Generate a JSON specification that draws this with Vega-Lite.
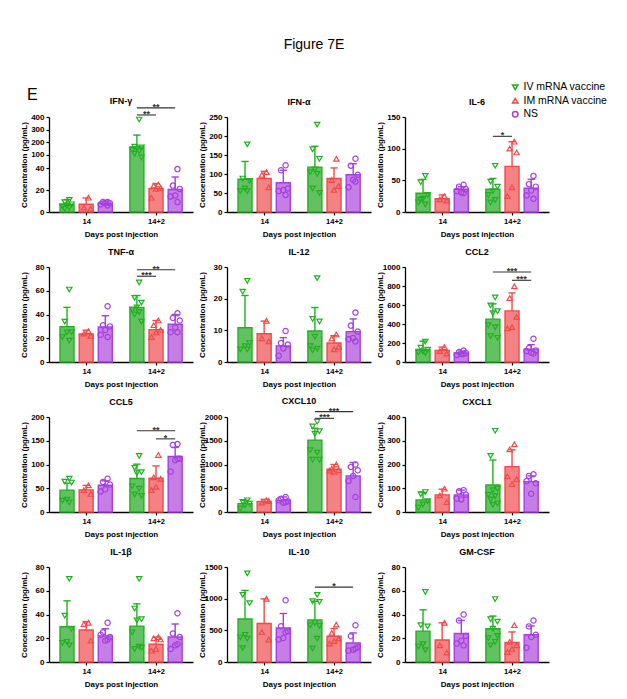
{
  "$schema": "https://vega.github.io/schema/vega-lite/v6.json",
  "padding": {"left": 20, "top": 38, "right": 5, "bottom": 5},
  "background": "white",
  "title": {"text": "Figure 7E", "fontSize": 14, "fontWeight": "normal", "anchor": "middle", "frame": "group", "offset": 30, "dx": 265},
  "data": {"values": [
    {"k":"b","p":"IFN-γ","d":"14","g":"IV","m":7,"hi":11.3},
    {"k":"b","p":"IFN-γ","d":"14","g":"IM","m":7,"hi":12.7},
    {"k":"b","p":"IFN-γ","d":"14","g":"NS","m":8,"hi":10},
    {"k":"b","p":"IFN-γ","d":"14+2","g":"IV","m":164,"hi":257},
    {"k":"b","p":"IFN-γ","d":"14+2","g":"IM","m":21.3,"hi":25.8},
    {"k":"b","p":"IFN-γ","d":"14+2","g":"NS","m":20.4,"hi":31.8},
    {"k":"b","p":"IFN-α","d":"14","g":"IV","m":86,"hi":133},
    {"k":"b","p":"IFN-α","d":"14","g":"IM","m":88,"hi":107},
    {"k":"b","p":"IFN-α","d":"14","g":"NS","m":77,"hi":110},
    {"k":"b","p":"IFN-α","d":"14+2","g":"IV","m":118,"hi":173},
    {"k":"b","p":"IFN-α","d":"14+2","g":"IM","m":88,"hi":116},
    {"k":"b","p":"IFN-α","d":"14+2","g":"NS","m":98,"hi":127},
    {"k":"b","p":"IL-6","d":"14","g":"IV","m":29.5,"hi":51.6},
    {"k":"b","p":"IL-6","d":"14","g":"IM","m":21,"hi":27},
    {"k":"b","p":"IL-6","d":"14","g":"NS","m":36,"hi":40},
    {"k":"b","p":"IL-6","d":"14+2","g":"IV","m":36,"hi":53},
    {"k":"b","p":"IL-6","d":"14+2","g":"IM","m":72,"hi":111},
    {"k":"b","p":"IL-6","d":"14+2","g":"NS","m":37.4,"hi":51.6},
    {"k":"b","p":"TNF-α","d":"14","g":"IV","m":29.8,"hi":46},
    {"k":"b","p":"TNF-α","d":"14","g":"IM","m":23.6,"hi":26.8},
    {"k":"b","p":"TNF-α","d":"14","g":"NS","m":29.6,"hi":39},
    {"k":"b","p":"TNF-α","d":"14+2","g":"IV","m":46,"hi":56},
    {"k":"b","p":"TNF-α","d":"14+2","g":"IM","m":27.3,"hi":34.9},
    {"k":"b","p":"TNF-α","d":"14+2","g":"NS","m":31.8,"hi":40},
    {"k":"b","p":"IL-12","d":"14","g":"IV","m":10.8,"hi":21},
    {"k":"b","p":"IL-12","d":"14","g":"IM","m":8.9,"hi":12.9},
    {"k":"b","p":"IL-12","d":"14","g":"NS","m":5.1,"hi":7.7},
    {"k":"b","p":"IL-12","d":"14+2","g":"IV","m":9.8,"hi":17.2},
    {"k":"b","p":"IL-12","d":"14+2","g":"IM","m":6,"hi":8.3},
    {"k":"b","p":"IL-12","d":"14+2","g":"NS","m":9.6,"hi":13.6},
    {"k":"b","p":"CCL2","d":"14","g":"IV","m":132,"hi":220},
    {"k":"b","p":"CCL2","d":"14","g":"IM","m":122,"hi":157},
    {"k":"b","p":"CCL2","d":"14","g":"NS","m":94,"hi":115},
    {"k":"b","p":"CCL2","d":"14+2","g":"IV","m":451,"hi":612},
    {"k":"b","p":"CCL2","d":"14+2","g":"IM","m":538,"hi":727},
    {"k":"b","p":"CCL2","d":"14+2","g":"NS","m":136,"hi":182},
    {"k":"b","p":"CCL5","d":"14","g":"IV","m":46,"hi":60.7},
    {"k":"b","p":"CCL5","d":"14","g":"IM","m":46.5,"hi":56},
    {"k":"b","p":"CCL5","d":"14","g":"NS","m":56.4,"hi":65.6},
    {"k":"b","p":"CCL5","d":"14+2","g":"IV","m":70.5,"hi":100.7},
    {"k":"b","p":"CCL5","d":"14+2","g":"IM","m":71,"hi":97},
    {"k":"b","p":"CCL5","d":"14+2","g":"NS","m":117,"hi":136},
    {"k":"b","p":"CXCL10","d":"14","g":"IV","m":176,"hi":246},
    {"k":"b","p":"CXCL10","d":"14","g":"IM","m":224,"hi":267},
    {"k":"b","p":"CXCL10","d":"14","g":"NS","m":246,"hi":317},
    {"k":"b","p":"CXCL10","d":"14+2","g":"IV","m":1514,"hi":1764},
    {"k":"b","p":"CXCL10","d":"14+2","g":"IM","m":901,"hi":1000},
    {"k":"b","p":"CXCL10","d":"14+2","g":"NS","m":761,"hi":1042},
    {"k":"b","p":"CXCL1","d":"14","g":"IV","m":51,"hi":82},
    {"k":"b","p":"CXCL1","d":"14","g":"IM","m":72,"hi":96},
    {"k":"b","p":"CXCL1","d":"14","g":"NS","m":72,"hi":92},
    {"k":"b","p":"CXCL1","d":"14+2","g":"IV","m":114,"hi":219},
    {"k":"b","p":"CXCL1","d":"14+2","g":"IM","m":191,"hi":262},
    {"k":"b","p":"CXCL1","d":"14+2","g":"NS","m":128,"hi":152},
    {"k":"b","p":"IL-1β","d":"14","g":"IV","m":29.7,"hi":51.5},
    {"k":"b","p":"IL-1β","d":"14","g":"IM","m":26.9,"hi":34},
    {"k":"b","p":"IL-1β","d":"14","g":"NS","m":22,"hi":28},
    {"k":"b","p":"IL-1β","d":"14+2","g":"IV","m":30.2,"hi":49},
    {"k":"b","p":"IL-1β","d":"14+2","g":"IM","m":15,"hi":21},
    {"k":"b","p":"IL-1β","d":"14+2","g":"NS","m":21,"hi":32},
    {"k":"b","p":"IL-10","d":"14","g":"IV","m":680,"hi":1130},
    {"k":"b","p":"IL-10","d":"14","g":"IM","m":607,"hi":997},
    {"k":"b","p":"IL-10","d":"14","g":"NS","m":538,"hi":766},
    {"k":"b","p":"IL-10","d":"14+2","g":"IV","m":665,"hi":960},
    {"k":"b","p":"IL-10","d":"14+2","g":"IM","m":407,"hi":528},
    {"k":"b","p":"IL-10","d":"14+2","g":"NS","m":301,"hi":459},
    {"k":"b","p":"GM-CSF","d":"14","g":"IV","m":26,"hi":44},
    {"k":"b","p":"GM-CSF","d":"14","g":"IM","m":18.5,"hi":33},
    {"k":"b","p":"GM-CSF","d":"14","g":"NS","m":24,"hi":35},
    {"k":"b","p":"GM-CSF","d":"14+2","g":"IV","m":28,"hi":38.7},
    {"k":"b","p":"GM-CSF","d":"14+2","g":"IM","m":16.5,"hi":25.3},
    {"k":"b","p":"GM-CSF","d":"14+2","g":"NS","m":23,"hi":30.3},

    {"k":"x","p":"IFN-γ","d":"14+2","g":"IV","g2":"IM","y":416,"t":"**"},
    {"k":"x","p":"IFN-γ","d":"14+2","g":"IV","g2":"NS","y":472,"t":"**"},
    {"k":"x","p":"IL-6","d":"14+2","g":"IV","g2":"IM","y":119.5,"t":"*"},
    {"k":"x","p":"TNF-α","d":"14+2","g":"IV","g2":"IM","y":72.2,"t":"***"},
    {"k":"x","p":"TNF-α","d":"14+2","g":"IV","g2":"NS","y":77.7,"t":"**"},
    {"k":"x","p":"CCL2","d":"14+2","g":"IV","g2":"NS","y":947,"t":"***"},
    {"k":"x","p":"CCL2","d":"14+2","g":"IM","g2":"NS","y":860,"t":"***"},
    {"k":"x","p":"CCL5","d":"14+2","g":"IM","g2":"NS","y":154,"t":"*"},
    {"k":"x","p":"CCL5","d":"14+2","g":"IV","g2":"NS","y":171,"t":"**"},
    {"k":"x","p":"CXCL10","d":"14+2","g":"IV","g2":"IM","y":1972,"t":"***"},
    {"k":"x","p":"CXCL10","d":"14+2","g":"IV","g2":"NS","y":2113,"t":"***"},
    {"k":"x","p":"IL-10","d":"14+2","g":"IV","g2":"NS","y":1182,"t":"*"},

    {"k":"s","p":"IFN-γ","d":"14","g":"IV","v":11},
    {"k":"s","p":"IFN-γ","d":"14","g":"IV","v":9},
    {"k":"s","p":"IFN-γ","d":"14","g":"IV","v":7},
    {"k":"s","p":"IFN-γ","d":"14","g":"IV","v":6},
    {"k":"s","p":"IFN-γ","d":"14","g":"IV","v":5},
    {"k":"s","p":"IFN-γ","d":"14","g":"IV","v":4},
    {"k":"s","p":"IFN-γ","d":"14","g":"IV","v":3},
    {"k":"s","p":"IFN-γ","d":"14","g":"IM","v":13},
    {"k":"s","p":"IFN-γ","d":"14","g":"IM","v":4},
    {"k":"s","p":"IFN-γ","d":"14","g":"IM","v":3},
    {"k":"s","p":"IFN-γ","d":"14","g":"NS","v":9},
    {"k":"s","p":"IFN-γ","d":"14","g":"NS","v":9},
    {"k":"s","p":"IFN-γ","d":"14","g":"NS","v":8},
    {"k":"s","p":"IFN-γ","d":"14","g":"NS","v":8},
    {"k":"s","p":"IFN-γ","d":"14","g":"NS","v":7},
    {"k":"s","p":"IFN-γ","d":"14","g":"NS","v":6},
    {"k":"s","p":"IFN-γ","d":"14+2","g":"IV","v":380},
    {"k":"s","p":"IFN-γ","d":"14+2","g":"IV","v":165},
    {"k":"s","p":"IFN-γ","d":"14+2","g":"IV","v":160},
    {"k":"s","p":"IFN-γ","d":"14+2","g":"IV","v":150},
    {"k":"s","p":"IFN-γ","d":"14+2","g":"IV","v":140},
    {"k":"s","p":"IFN-γ","d":"14+2","g":"IV","v":130},
    {"k":"s","p":"IFN-γ","d":"14+2","g":"IV","v":110},
    {"k":"s","p":"IFN-γ","d":"14+2","g":"IV","v":80},
    {"k":"s","p":"IFN-γ","d":"14+2","g":"IM","v":25},
    {"k":"s","p":"IFN-γ","d":"14+2","g":"IM","v":24},
    {"k":"s","p":"IFN-γ","d":"14+2","g":"IM","v":22},
    {"k":"s","p":"IFN-γ","d":"14+2","g":"IM","v":21},
    {"k":"s","p":"IFN-γ","d":"14+2","g":"IM","v":13},
    {"k":"s","p":"IFN-γ","d":"14+2","g":"NS","v":39},
    {"k":"s","p":"IFN-γ","d":"14+2","g":"NS","v":24},
    {"k":"s","p":"IFN-γ","d":"14+2","g":"NS","v":21},
    {"k":"s","p":"IFN-γ","d":"14+2","g":"NS","v":15},
    {"k":"s","p":"IFN-γ","d":"14+2","g":"NS","v":14},
    {"k":"s","p":"IFN-γ","d":"14+2","g":"NS","v":9},

    {"k":"s","p":"IFN-α","d":"14","g":"IV","v":178},
    {"k":"s","p":"IFN-α","d":"14","g":"IV","v":88},
    {"k":"s","p":"IFN-α","d":"14","g":"IV","v":82},
    {"k":"s","p":"IFN-α","d":"14","g":"IV","v":62},
    {"k":"s","p":"IFN-α","d":"14","g":"IV","v":55},
    {"k":"s","p":"IFN-α","d":"14","g":"IV","v":55},
    {"k":"s","p":"IFN-α","d":"14","g":"IM","v":105},
    {"k":"s","p":"IFN-α","d":"14","g":"IM","v":98},
    {"k":"s","p":"IFN-α","d":"14","g":"IM","v":65},
    {"k":"s","p":"IFN-α","d":"14","g":"NS","v":123},
    {"k":"s","p":"IFN-α","d":"14","g":"NS","v":110},
    {"k":"s","p":"IFN-α","d":"14","g":"NS","v":62},
    {"k":"s","p":"IFN-α","d":"14","g":"NS","v":58},
    {"k":"s","p":"IFN-α","d":"14","g":"NS","v":55},
    {"k":"s","p":"IFN-α","d":"14","g":"NS","v":45},
    {"k":"s","p":"IFN-α","d":"14+2","g":"IV","v":230},
    {"k":"s","p":"IFN-α","d":"14+2","g":"IV","v":165},
    {"k":"s","p":"IFN-α","d":"14+2","g":"IV","v":140},
    {"k":"s","p":"IFN-α","d":"14+2","g":"IV","v":112},
    {"k":"s","p":"IFN-α","d":"14+2","g":"IV","v":105},
    {"k":"s","p":"IFN-α","d":"14+2","g":"IV","v":100},
    {"k":"s","p":"IFN-α","d":"14+2","g":"IV","v":62},
    {"k":"s","p":"IFN-α","d":"14+2","g":"IV","v":50},
    {"k":"s","p":"IFN-α","d":"14+2","g":"IM","v":140},
    {"k":"s","p":"IFN-α","d":"14+2","g":"IM","v":84},
    {"k":"s","p":"IFN-α","d":"14+2","g":"IM","v":68},
    {"k":"s","p":"IFN-α","d":"14+2","g":"IM","v":58},
    {"k":"s","p":"IFN-α","d":"14+2","g":"NS","v":140},
    {"k":"s","p":"IFN-α","d":"14+2","g":"NS","v":122},
    {"k":"s","p":"IFN-α","d":"14+2","g":"NS","v":98},
    {"k":"s","p":"IFN-α","d":"14+2","g":"NS","v":85},
    {"k":"s","p":"IFN-α","d":"14+2","g":"NS","v":65},
    {"k":"s","p":"IFN-α","d":"14+2","g":"NS","v":80},

    {"k":"s","p":"IL-6","d":"14","g":"IV","v":57},
    {"k":"s","p":"IL-6","d":"14","g":"IV","v":47},
    {"k":"s","p":"IL-6","d":"14","g":"IV","v":27},
    {"k":"s","p":"IL-6","d":"14","g":"IV","v":21},
    {"k":"s","p":"IL-6","d":"14","g":"IV","v":15},
    {"k":"s","p":"IL-6","d":"14","g":"IV","v":12},
    {"k":"s","p":"IL-6","d":"14","g":"IV","v":19},
    {"k":"s","p":"IL-6","d":"14","g":"IM","v":25},
    {"k":"s","p":"IL-6","d":"14","g":"IM","v":20},
    {"k":"s","p":"IL-6","d":"14","g":"IM","v":18},
    {"k":"s","p":"IL-6","d":"14","g":"NS","v":43},
    {"k":"s","p":"IL-6","d":"14","g":"NS","v":40},
    {"k":"s","p":"IL-6","d":"14","g":"NS","v":36},
    {"k":"s","p":"IL-6","d":"14","g":"NS","v":31},
    {"k":"s","p":"IL-6","d":"14","g":"NS","v":33},
    {"k":"s","p":"IL-6","d":"14","g":"NS","v":30},
    {"k":"s","p":"IL-6","d":"14+2","g":"IV","v":73},
    {"k":"s","p":"IL-6","d":"14+2","g":"IV","v":48},
    {"k":"s","p":"IL-6","d":"14+2","g":"IV","v":40},
    {"k":"s","p":"IL-6","d":"14+2","g":"IV","v":33},
    {"k":"s","p":"IL-6","d":"14+2","g":"IV","v":27},
    {"k":"s","p":"IL-6","d":"14+2","g":"IV","v":19},
    {"k":"s","p":"IL-6","d":"14+2","g":"IV","v":15},
    {"k":"s","p":"IL-6","d":"14+2","g":"IM","v":111},
    {"k":"s","p":"IL-6","d":"14+2","g":"IM","v":100},
    {"k":"s","p":"IL-6","d":"14+2","g":"IM","v":94},
    {"k":"s","p":"IL-6","d":"14+2","g":"IM","v":39},
    {"k":"s","p":"IL-6","d":"14+2","g":"IM","v":25},
    {"k":"s","p":"IL-6","d":"14+2","g":"NS","v":57},
    {"k":"s","p":"IL-6","d":"14+2","g":"NS","v":44},
    {"k":"s","p":"IL-6","d":"14+2","g":"NS","v":40},
    {"k":"s","p":"IL-6","d":"14+2","g":"NS","v":34},
    {"k":"s","p":"IL-6","d":"14+2","g":"NS","v":26},
    {"k":"s","p":"IL-6","d":"14+2","g":"NS","v":21},

    {"k":"s","p":"TNF-α","d":"14","g":"IV","v":61},
    {"k":"s","p":"TNF-α","d":"14","g":"IV","v":34},
    {"k":"s","p":"TNF-α","d":"14","g":"IV","v":25},
    {"k":"s","p":"TNF-α","d":"14","g":"IV","v":25},
    {"k":"s","p":"TNF-α","d":"14","g":"IV","v":21},
    {"k":"s","p":"TNF-α","d":"14","g":"IV","v":18},
    {"k":"s","p":"TNF-α","d":"14","g":"IM","v":26},
    {"k":"s","p":"TNF-α","d":"14","g":"IM","v":24},
    {"k":"s","p":"TNF-α","d":"14","g":"IM","v":22},
    {"k":"s","p":"TNF-α","d":"14","g":"NS","v":47},
    {"k":"s","p":"TNF-α","d":"14","g":"NS","v":31},
    {"k":"s","p":"TNF-α","d":"14","g":"NS","v":30},
    {"k":"s","p":"TNF-α","d":"14","g":"NS","v":27},
    {"k":"s","p":"TNF-α","d":"14","g":"NS","v":23},
    {"k":"s","p":"TNF-α","d":"14","g":"NS","v":21},
    {"k":"s","p":"TNF-α","d":"14+2","g":"IV","v":67},
    {"k":"s","p":"TNF-α","d":"14+2","g":"IV","v":54},
    {"k":"s","p":"TNF-α","d":"14+2","g":"IV","v":50},
    {"k":"s","p":"TNF-α","d":"14+2","g":"IV","v":46},
    {"k":"s","p":"TNF-α","d":"14+2","g":"IV","v":44},
    {"k":"s","p":"TNF-α","d":"14+2","g":"IV","v":42},
    {"k":"s","p":"TNF-α","d":"14+2","g":"IV","v":40},
    {"k":"s","p":"TNF-α","d":"14+2","g":"IV","v":34},
    {"k":"s","p":"TNF-α","d":"14+2","g":"IM","v":35},
    {"k":"s","p":"TNF-α","d":"14+2","g":"IM","v":31},
    {"k":"s","p":"TNF-α","d":"14+2","g":"IM","v":27},
    {"k":"s","p":"TNF-α","d":"14+2","g":"IM","v":25},
    {"k":"s","p":"TNF-α","d":"14+2","g":"IM","v":21},
    {"k":"s","p":"TNF-α","d":"14+2","g":"NS","v":41},
    {"k":"s","p":"TNF-α","d":"14+2","g":"NS","v":37},
    {"k":"s","p":"TNF-α","d":"14+2","g":"NS","v":35},
    {"k":"s","p":"TNF-α","d":"14+2","g":"NS","v":29},
    {"k":"s","p":"TNF-α","d":"14+2","g":"NS","v":25},
    {"k":"s","p":"TNF-α","d":"14+2","g":"NS","v":25},

    {"k":"s","p":"IL-12","d":"14","g":"IV","v":25.6},
    {"k":"s","p":"IL-12","d":"14","g":"IV","v":22.2},
    {"k":"s","p":"IL-12","d":"14","g":"IV","v":6},
    {"k":"s","p":"IL-12","d":"14","g":"IV","v":5},
    {"k":"s","p":"IL-12","d":"14","g":"IV","v":4},
    {"k":"s","p":"IL-12","d":"14","g":"IV","v":4},
    {"k":"s","p":"IL-12","d":"14","g":"IM","v":13},
    {"k":"s","p":"IL-12","d":"14","g":"IM","v":7.5},
    {"k":"s","p":"IL-12","d":"14","g":"IM","v":6.5},
    {"k":"s","p":"IL-12","d":"14","g":"NS","v":9.8},
    {"k":"s","p":"IL-12","d":"14","g":"NS","v":6},
    {"k":"s","p":"IL-12","d":"14","g":"NS","v":5.5},
    {"k":"s","p":"IL-12","d":"14","g":"NS","v":4.3},
    {"k":"s","p":"IL-12","d":"14","g":"NS","v":2},
    {"k":"s","p":"IL-12","d":"14+2","g":"IV","v":26.5},
    {"k":"s","p":"IL-12","d":"14+2","g":"IV","v":13.6},
    {"k":"s","p":"IL-12","d":"14+2","g":"IV","v":12.8},
    {"k":"s","p":"IL-12","d":"14+2","g":"IV","v":8},
    {"k":"s","p":"IL-12","d":"14+2","g":"IV","v":5},
    {"k":"s","p":"IL-12","d":"14+2","g":"IV","v":4.2},
    {"k":"s","p":"IL-12","d":"14+2","g":"IV","v":3.7},
    {"k":"s","p":"IL-12","d":"14+2","g":"IM","v":8.7},
    {"k":"s","p":"IL-12","d":"14+2","g":"IM","v":7.4},
    {"k":"s","p":"IL-12","d":"14+2","g":"IM","v":4.8},
    {"k":"s","p":"IL-12","d":"14+2","g":"IM","v":4},
    {"k":"s","p":"IL-12","d":"14+2","g":"NS","v":15.6},
    {"k":"s","p":"IL-12","d":"14+2","g":"NS","v":11.5},
    {"k":"s","p":"IL-12","d":"14+2","g":"NS","v":9.6},
    {"k":"s","p":"IL-12","d":"14+2","g":"NS","v":7.6},
    {"k":"s","p":"IL-12","d":"14+2","g":"NS","v":7.2},
    {"k":"s","p":"IL-12","d":"14+2","g":"NS","v":6.5},

    {"k":"s","p":"CCL2","d":"14","g":"IV","v":215},
    {"k":"s","p":"CCL2","d":"14","g":"IV","v":150},
    {"k":"s","p":"CCL2","d":"14","g":"IV","v":130},
    {"k":"s","p":"CCL2","d":"14","g":"IV","v":110},
    {"k":"s","p":"CCL2","d":"14","g":"IV","v":100},
    {"k":"s","p":"CCL2","d":"14","g":"IV","v":95},
    {"k":"s","p":"CCL2","d":"14","g":"IM","v":157},
    {"k":"s","p":"CCL2","d":"14","g":"IM","v":115},
    {"k":"s","p":"CCL2","d":"14","g":"IM","v":88},
    {"k":"s","p":"CCL2","d":"14","g":"NS","v":120},
    {"k":"s","p":"CCL2","d":"14","g":"NS","v":105},
    {"k":"s","p":"CCL2","d":"14","g":"NS","v":95},
    {"k":"s","p":"CCL2","d":"14","g":"NS","v":85},
    {"k":"s","p":"CCL2","d":"14","g":"NS","v":75},
    {"k":"s","p":"CCL2","d":"14","g":"NS","v":85},
    {"k":"s","p":"CCL2","d":"14+2","g":"IV","v":680},
    {"k":"s","p":"CCL2","d":"14+2","g":"IV","v":597},
    {"k":"s","p":"CCL2","d":"14+2","g":"IV","v":535},
    {"k":"s","p":"CCL2","d":"14+2","g":"IV","v":515},
    {"k":"s","p":"CCL2","d":"14+2","g":"IV","v":388},
    {"k":"s","p":"CCL2","d":"14+2","g":"IV","v":367},
    {"k":"s","p":"CCL2","d":"14+2","g":"IV","v":273},
    {"k":"s","p":"CCL2","d":"14+2","g":"IV","v":255},
    {"k":"s","p":"CCL2","d":"14+2","g":"IM","v":797},
    {"k":"s","p":"CCL2","d":"14+2","g":"IM","v":673},
    {"k":"s","p":"CCL2","d":"14+2","g":"IM","v":475},
    {"k":"s","p":"CCL2","d":"14+2","g":"IM","v":367},
    {"k":"s","p":"CCL2","d":"14+2","g":"IM","v":353},
    {"k":"s","p":"CCL2","d":"14+2","g":"NS","v":245},
    {"k":"s","p":"CCL2","d":"14+2","g":"NS","v":147},
    {"k":"s","p":"CCL2","d":"14+2","g":"NS","v":122},
    {"k":"s","p":"CCL2","d":"14+2","g":"NS","v":98},
    {"k":"s","p":"CCL2","d":"14+2","g":"NS","v":115},
    {"k":"s","p":"CCL2","d":"14+2","g":"NS","v":90},

    {"k":"s","p":"CCL5","d":"14","g":"IV","v":70},
    {"k":"s","p":"CCL5","d":"14","g":"IV","v":64},
    {"k":"s","p":"CCL5","d":"14","g":"IV","v":62},
    {"k":"s","p":"CCL5","d":"14","g":"IV","v":26},
    {"k":"s","p":"CCL5","d":"14","g":"IV","v":24},
    {"k":"s","p":"CCL5","d":"14","g":"IV","v":20},
    {"k":"s","p":"CCL5","d":"14","g":"IM","v":56},
    {"k":"s","p":"CCL5","d":"14","g":"IM","v":46},
    {"k":"s","p":"CCL5","d":"14","g":"IM","v":38},
    {"k":"s","p":"CCL5","d":"14","g":"NS","v":70},
    {"k":"s","p":"CCL5","d":"14","g":"NS","v":63},
    {"k":"s","p":"CCL5","d":"14","g":"NS","v":58},
    {"k":"s","p":"CCL5","d":"14","g":"NS","v":48},
    {"k":"s","p":"CCL5","d":"14","g":"NS","v":43},
    {"k":"s","p":"CCL5","d":"14+2","g":"IV","v":118},
    {"k":"s","p":"CCL5","d":"14+2","g":"IV","v":93},
    {"k":"s","p":"CCL5","d":"14+2","g":"IV","v":84},
    {"k":"s","p":"CCL5","d":"14+2","g":"IV","v":82},
    {"k":"s","p":"CCL5","d":"14+2","g":"IV","v":54},
    {"k":"s","p":"CCL5","d":"14+2","g":"IV","v":49},
    {"k":"s","p":"CCL5","d":"14+2","g":"IV","v":37},
    {"k":"s","p":"CCL5","d":"14+2","g":"IV","v":34},
    {"k":"s","p":"CCL5","d":"14+2","g":"IM","v":120},
    {"k":"s","p":"CCL5","d":"14+2","g":"IM","v":73},
    {"k":"s","p":"CCL5","d":"14+2","g":"IM","v":70},
    {"k":"s","p":"CCL5","d":"14+2","g":"IM","v":53},
    {"k":"s","p":"CCL5","d":"14+2","g":"IM","v":46},
    {"k":"s","p":"CCL5","d":"14+2","g":"NS","v":143},
    {"k":"s","p":"CCL5","d":"14+2","g":"NS","v":141},
    {"k":"s","p":"CCL5","d":"14+2","g":"NS","v":112},
    {"k":"s","p":"CCL5","d":"14+2","g":"NS","v":109},
    {"k":"s","p":"CCL5","d":"14+2","g":"NS","v":85},
    {"k":"s","p":"CCL5","d":"14+2","g":"NS","v":112},

    {"k":"s","p":"CXCL10","d":"14","g":"IV","v":246},
    {"k":"s","p":"CXCL10","d":"14","g":"IV","v":211},
    {"k":"s","p":"CXCL10","d":"14","g":"IV","v":176},
    {"k":"s","p":"CXCL10","d":"14","g":"IV","v":140},
    {"k":"s","p":"CXCL10","d":"14","g":"IV","v":70},
    {"k":"s","p":"CXCL10","d":"14","g":"IM","v":246},
    {"k":"s","p":"CXCL10","d":"14","g":"IM","v":197},
    {"k":"s","p":"CXCL10","d":"14","g":"IM","v":230},
    {"k":"s","p":"CXCL10","d":"14","g":"NS","v":317},
    {"k":"s","p":"CXCL10","d":"14","g":"NS","v":281},
    {"k":"s","p":"CXCL10","d":"14","g":"NS","v":224},
    {"k":"s","p":"CXCL10","d":"14","g":"NS","v":197},
    {"k":"s","p":"CXCL10","d":"14","g":"NS","v":246},
    {"k":"s","p":"CXCL10","d":"14","g":"NS","v":210},
    {"k":"s","p":"CXCL10","d":"14+2","g":"IV","v":1900},
    {"k":"s","p":"CXCL10","d":"14+2","g":"IV","v":1800},
    {"k":"s","p":"CXCL10","d":"14+2","g":"IV","v":1700},
    {"k":"s","p":"CXCL10","d":"14+2","g":"IV","v":1650},
    {"k":"s","p":"CXCL10","d":"14+2","g":"IV","v":1300},
    {"k":"s","p":"CXCL10","d":"14+2","g":"IV","v":1250},
    {"k":"s","p":"CXCL10","d":"14+2","g":"IV","v":1100},
    {"k":"s","p":"CXCL10","d":"14+2","g":"IV","v":1100},
    {"k":"s","p":"CXCL10","d":"14+2","g":"IM","v":1000},
    {"k":"s","p":"CXCL10","d":"14+2","g":"IM","v":915},
    {"k":"s","p":"CXCL10","d":"14+2","g":"IM","v":880},
    {"k":"s","p":"CXCL10","d":"14+2","g":"IM","v":845},
    {"k":"s","p":"CXCL10","d":"14+2","g":"IM","v":870},
    {"k":"s","p":"CXCL10","d":"14+2","g":"NS","v":1000},
    {"k":"s","p":"CXCL10","d":"14+2","g":"NS","v":950},
    {"k":"s","p":"CXCL10","d":"14+2","g":"NS","v":880},
    {"k":"s","p":"CXCL10","d":"14+2","g":"NS","v":760},
    {"k":"s","p":"CXCL10","d":"14+2","g":"NS","v":655},
    {"k":"s","p":"CXCL10","d":"14+2","g":"NS","v":317},

    {"k":"s","p":"CXCL1","d":"14","g":"IV","v":84},
    {"k":"s","p":"CXCL1","d":"14","g":"IV","v":75},
    {"k":"s","p":"CXCL1","d":"14","g":"IV","v":46},
    {"k":"s","p":"CXCL1","d":"14","g":"IV","v":32},
    {"k":"s","p":"CXCL1","d":"14","g":"IV","v":18},
    {"k":"s","p":"CXCL1","d":"14","g":"IM","v":98},
    {"k":"s","p":"CXCL1","d":"14","g":"IM","v":70},
    {"k":"s","p":"CXCL1","d":"14","g":"IM","v":42},
    {"k":"s","p":"CXCL1","d":"14","g":"NS","v":92},
    {"k":"s","p":"CXCL1","d":"14","g":"NS","v":87},
    {"k":"s","p":"CXCL1","d":"14","g":"NS","v":73},
    {"k":"s","p":"CXCL1","d":"14","g":"NS","v":53},
    {"k":"s","p":"CXCL1","d":"14","g":"NS","v":57},
    {"k":"s","p":"CXCL1","d":"14+2","g":"IV","v":342},
    {"k":"s","p":"CXCL1","d":"14+2","g":"IV","v":236},
    {"k":"s","p":"CXCL1","d":"14+2","g":"IV","v":98},
    {"k":"s","p":"CXCL1","d":"14+2","g":"IV","v":92},
    {"k":"s","p":"CXCL1","d":"14+2","g":"IV","v":73},
    {"k":"s","p":"CXCL1","d":"14+2","g":"IV","v":67},
    {"k":"s","p":"CXCL1","d":"14+2","g":"IV","v":53},
    {"k":"s","p":"CXCL1","d":"14+2","g":"IV","v":36},
    {"k":"s","p":"CXCL1","d":"14+2","g":"IV","v":30},
    {"k":"s","p":"CXCL1","d":"14+2","g":"IM","v":285},
    {"k":"s","p":"CXCL1","d":"14+2","g":"IM","v":264},
    {"k":"s","p":"CXCL1","d":"14+2","g":"IM","v":138},
    {"k":"s","p":"CXCL1","d":"14+2","g":"IM","v":117},
    {"k":"s","p":"CXCL1","d":"14+2","g":"IM","v":150},
    {"k":"s","p":"CXCL1","d":"14+2","g":"NS","v":159},
    {"k":"s","p":"CXCL1","d":"14+2","g":"NS","v":152},
    {"k":"s","p":"CXCL1","d":"14+2","g":"NS","v":121},
    {"k":"s","p":"CXCL1","d":"14+2","g":"NS","v":77},
    {"k":"s","p":"CXCL1","d":"14+2","g":"NS","v":130},

    {"k":"s","p":"IL-1β","d":"14","g":"IV","v":70},
    {"k":"s","p":"IL-1β","d":"14","g":"IV","v":39},
    {"k":"s","p":"IL-1β","d":"14","g":"IV","v":28},
    {"k":"s","p":"IL-1β","d":"14","g":"IV","v":17},
    {"k":"s","p":"IL-1β","d":"14","g":"IV","v":16},
    {"k":"s","p":"IL-1β","d":"14","g":"IV","v":14},
    {"k":"s","p":"IL-1β","d":"14","g":"IM","v":33},
    {"k":"s","p":"IL-1β","d":"14","g":"IM","v":32},
    {"k":"s","p":"IL-1β","d":"14","g":"IM","v":18},
    {"k":"s","p":"IL-1β","d":"14","g":"NS","v":33},
    {"k":"s","p":"IL-1β","d":"14","g":"NS","v":25},
    {"k":"s","p":"IL-1β","d":"14","g":"NS","v":21},
    {"k":"s","p":"IL-1β","d":"14","g":"NS","v":18},
    {"k":"s","p":"IL-1β","d":"14","g":"NS","v":23},
    {"k":"s","p":"IL-1β","d":"14","g":"NS","v":19},
    {"k":"s","p":"IL-1β","d":"14+2","g":"IV","v":70},
    {"k":"s","p":"IL-1β","d":"14+2","g":"IV","v":45},
    {"k":"s","p":"IL-1β","d":"14+2","g":"IV","v":36},
    {"k":"s","p":"IL-1β","d":"14+2","g":"IV","v":35},
    {"k":"s","p":"IL-1β","d":"14+2","g":"IV","v":25},
    {"k":"s","p":"IL-1β","d":"14+2","g":"IV","v":13},
    {"k":"s","p":"IL-1β","d":"14+2","g":"IV","v":11},
    {"k":"s","p":"IL-1β","d":"14+2","g":"IV","v":12},
    {"k":"s","p":"IL-1β","d":"14+2","g":"IM","v":21},
    {"k":"s","p":"IL-1β","d":"14+2","g":"IM","v":20},
    {"k":"s","p":"IL-1β","d":"14+2","g":"IM","v":19},
    {"k":"s","p":"IL-1β","d":"14+2","g":"IM","v":11},
    {"k":"s","p":"IL-1β","d":"14+2","g":"IM","v":9.5},
    {"k":"s","p":"IL-1β","d":"14+2","g":"NS","v":41},
    {"k":"s","p":"IL-1β","d":"14+2","g":"NS","v":24},
    {"k":"s","p":"IL-1β","d":"14+2","g":"NS","v":21},
    {"k":"s","p":"IL-1β","d":"14+2","g":"NS","v":14},
    {"k":"s","p":"IL-1β","d":"14+2","g":"NS","v":11},
    {"k":"s","p":"IL-1β","d":"14+2","g":"NS","v":15},

    {"k":"s","p":"IL-10","d":"14","g":"IV","v":1400},
    {"k":"s","p":"IL-10","d":"14","g":"IV","v":1060},
    {"k":"s","p":"IL-10","d":"14","g":"IV","v":930},
    {"k":"s","p":"IL-10","d":"14","g":"IV","v":430},
    {"k":"s","p":"IL-10","d":"14","g":"IV","v":390},
    {"k":"s","p":"IL-10","d":"14","g":"IV","v":370},
    {"k":"s","p":"IL-10","d":"14","g":"IV","v":220},
    {"k":"s","p":"IL-10","d":"14","g":"IM","v":997},
    {"k":"s","p":"IL-10","d":"14","g":"IM","v":470},
    {"k":"s","p":"IL-10","d":"14","g":"IM","v":355},
    {"k":"s","p":"IL-10","d":"14","g":"NS","v":975},
    {"k":"s","p":"IL-10","d":"14","g":"NS","v":565},
    {"k":"s","p":"IL-10","d":"14","g":"NS","v":485},
    {"k":"s","p":"IL-10","d":"14","g":"NS","v":380},
    {"k":"s","p":"IL-10","d":"14","g":"NS","v":355},
    {"k":"s","p":"IL-10","d":"14","g":"NS","v":470},
    {"k":"s","p":"IL-10","d":"14+2","g":"IV","v":1060},
    {"k":"s","p":"IL-10","d":"14+2","g":"IV","v":960},
    {"k":"s","p":"IL-10","d":"14+2","g":"IV","v":950},
    {"k":"s","p":"IL-10","d":"14+2","g":"IV","v":615},
    {"k":"s","p":"IL-10","d":"14+2","g":"IV","v":580},
    {"k":"s","p":"IL-10","d":"14+2","g":"IV","v":370},
    {"k":"s","p":"IL-10","d":"14+2","g":"IV","v":215},
    {"k":"s","p":"IL-10","d":"14+2","g":"IV","v":570},
    {"k":"s","p":"IL-10","d":"14+2","g":"IM","v":590},
    {"k":"s","p":"IL-10","d":"14+2","g":"IM","v":460},
    {"k":"s","p":"IL-10","d":"14+2","g":"IM","v":370},
    {"k":"s","p":"IL-10","d":"14+2","g":"IM","v":330},
    {"k":"s","p":"IL-10","d":"14+2","g":"IM","v":290},
    {"k":"s","p":"IL-10","d":"14+2","g":"NS","v":580},
    {"k":"s","p":"IL-10","d":"14+2","g":"NS","v":407},
    {"k":"s","p":"IL-10","d":"14+2","g":"NS","v":232},
    {"k":"s","p":"IL-10","d":"14+2","g":"NS","v":195},
    {"k":"s","p":"IL-10","d":"14+2","g":"NS","v":180},
    {"k":"s","p":"IL-10","d":"14+2","g":"NS","v":215},

    {"k":"s","p":"GM-CSF","d":"14","g":"IV","v":59},
    {"k":"s","p":"GM-CSF","d":"14","g":"IV","v":31},
    {"k":"s","p":"GM-CSF","d":"14","g":"IV","v":30},
    {"k":"s","p":"GM-CSF","d":"14","g":"IV","v":15},
    {"k":"s","p":"GM-CSF","d":"14","g":"IV","v":13},
    {"k":"s","p":"GM-CSF","d":"14","g":"IV","v":10},
    {"k":"s","p":"GM-CSF","d":"14","g":"IM","v":33},
    {"k":"s","p":"GM-CSF","d":"14","g":"IM","v":14},
    {"k":"s","p":"GM-CSF","d":"14","g":"IM","v":8},
    {"k":"s","p":"GM-CSF","d":"14","g":"NS","v":40},
    {"k":"s","p":"GM-CSF","d":"14","g":"NS","v":35},
    {"k":"s","p":"GM-CSF","d":"14","g":"NS","v":22},
    {"k":"s","p":"GM-CSF","d":"14","g":"NS","v":18},
    {"k":"s","p":"GM-CSF","d":"14","g":"NS","v":15.5},
    {"k":"s","p":"GM-CSF","d":"14","g":"NS","v":14},
    {"k":"s","p":"GM-CSF","d":"14+2","g":"IV","v":53},
    {"k":"s","p":"GM-CSF","d":"14+2","g":"IV","v":36},
    {"k":"s","p":"GM-CSF","d":"14+2","g":"IV","v":34},
    {"k":"s","p":"GM-CSF","d":"14+2","g":"IV","v":28},
    {"k":"s","p":"GM-CSF","d":"14+2","g":"IV","v":20},
    {"k":"s","p":"GM-CSF","d":"14+2","g":"IV","v":17},
    {"k":"s","p":"GM-CSF","d":"14+2","g":"IV","v":14},
    {"k":"s","p":"GM-CSF","d":"14+2","g":"IV","v":22},
    {"k":"s","p":"GM-CSF","d":"14+2","g":"IM","v":31},
    {"k":"s","p":"GM-CSF","d":"14+2","g":"IM","v":17},
    {"k":"s","p":"GM-CSF","d":"14+2","g":"IM","v":14},
    {"k":"s","p":"GM-CSF","d":"14+2","g":"IM","v":11},
    {"k":"s","p":"GM-CSF","d":"14+2","g":"IM","v":8.4},
    {"k":"s","p":"GM-CSF","d":"14+2","g":"NS","v":35},
    {"k":"s","p":"GM-CSF","d":"14+2","g":"NS","v":30},
    {"k":"s","p":"GM-CSF","d":"14+2","g":"NS","v":23},
    {"k":"s","p":"GM-CSF","d":"14+2","g":"NS","v":21},
    {"k":"s","p":"GM-CSF","d":"14+2","g":"NS","v":12}
  ]},
  "transform": [
    {"calculate": "indexof(['IV','IM','NS'], datum.g)", "as": "gi"},
    {"calculate": "(datum.d == '14' ? 0 : 3.65) + datum.gi", "as": "x"},
    {"calculate": "datum.x - 0.19", "as": "c1"},
    {"calculate": "datum.x + 0.19", "as": "c2"},
    {"calculate": "3.65 + indexof(['IV','IM','NS'], datum.g2)", "as": "x2"},
    {"calculate": "(datum.x + datum.x2) / 2", "as": "xm"},
    {"window": [{"op": "row_number", "as": "r"}], "groupby": ["k", "p", "d", "g"]},
    {"calculate": "datum.x + ((datum.r * 3) % 5 - 2) * 0.12", "as": "px"}
  ],
  "vconcat": [{
    "title": {"text": "E", "fontSize": 16, "fontWeight": "normal", "anchor": "start", "frame": "group", "offset": -6, "dx": -22},
    "columns": 3,
    "spacing": {"row": 55, "column": 34},
    "bounds": "flush",
    "concat": [
      {"title": {"text": "IFN-γ", "dy": 9}, "width": 144, "height": 95,
       "transform": [{"filter": "datum.p == 'IFN-γ'"}],
       "layer": [
        {"transform": [{"filter": "datum.k == 'b'"}],
         "mark": {"type": "bar", "size": 14, "strokeWidth": 1.4},
         "encoding": {
          "x": {"field": "x", "type": "quantitative", "scale": {"domain": [-0.68, 6.32], "nice": false, "zero": false}, "axis": {"values": [1, 4.65], "tickCount": 10, "labelExpr": "datum.value < 3 ? '14' : '14+2'", "title": "Days post injection"}},
          "y": {"field": "m", "type": "quantitative", "scale": {"domain": [0, 40, 57, 400], "range": [95, 51, 43.4, 0], "nice": false}, "axis": {"values": [0, 20, 40, 100, 200, 300, 400], "tickCount": 20, "labelOverlap": false, "format": "d", "title": "Concentration (pg/mL)"}},
          "fill": {"field": "gi", "type": "nominal", "scale": {"domain": [0, 1, 2], "range": ["#62c262", "#f58282", "#c47ee6"]}, "legend": null},
          "stroke": {"field": "gi", "type": "nominal", "scale": {"domain": [0, 1, 2], "range": ["#22b022", "#f04a4a", "#a63ee0"]}, "legend": null}}},
        {"transform": [{"filter": "datum.k == 'b'"}], "mark": {"type": "rule", "strokeWidth": 1.4},
         "encoding": {"x": {"field": "x", "type": "quantitative"}, "y": {"field": "m", "type": "quantitative"}, "y2": {"field": "hi"}, "stroke": {"field": "gi", "type": "nominal", "legend": null}}},
        {"transform": [{"filter": "datum.k == 'b'"}], "mark": {"type": "rule", "strokeWidth": 1.4},
         "encoding": {"x": {"field": "c1", "type": "quantitative"}, "x2": {"field": "c2"}, "y": {"field": "hi", "type": "quantitative"}, "stroke": {"field": "gi", "type": "nominal", "legend": null}}},
        {"transform": [{"filter": "datum.k == 's'"}], "mark": {"type": "point", "filled": false, "size": 28, "strokeWidth": 1.2, "opacity": 1},
         "encoding": {"x": {"field": "px", "type": "quantitative"}, "y": {"field": "v", "type": "quantitative"},
          "color": {"field": "g", "type": "nominal", "scale": {"domain": ["IV", "IM", "NS"], "range": ["#22b022", "#f04a4a", "#a63ee0"]},
            "legend": {"title": null, "orient": "none", "legendX": 461, "legendY": -35, "labelExpr": "datum.label == 'IV' ? 'IV mRNA vaccine' : datum.label == 'IM' ? 'IM mRNA vaccine' : 'NS'", "labelFontSize": 10.5, "labelFont": "Liberation Sans", "labelColor": "#000", "symbolSize": 30, "symbolStrokeWidth": 1.5, "rowPadding": 1.5, "labelOffset": 3}},
          "shape": {"field": "g", "type": "nominal", "scale": {"domain": ["IV", "IM", "NS"], "range": ["triangle-down", "triangle-up", "circle"]},
            "legend": {"title": null, "orient": "none", "legendX": 461, "legendY": -35, "labelExpr": "datum.label == 'IV' ? 'IV mRNA vaccine' : datum.label == 'IM' ? 'IM mRNA vaccine' : 'NS'", "labelFontSize": 10.5, "labelFont": "Liberation Sans", "labelColor": "#000", "symbolSize": 30, "symbolStrokeWidth": 1.5, "rowPadding": 1.5, "labelOffset": 3}}}},
        {"transform": [{"filter": "datum.k == 'x'"}], "mark": {"type": "rule", "strokeWidth": 1.1, "color": "#333"},
         "encoding": {"x": {"field": "x", "type": "quantitative"}, "x2": {"field": "x2"}, "y": {"field": "y", "type": "quantitative"}}},
        {"transform": [{"filter": "datum.k == 'x'"}], "mark": {"type": "text", "fontSize": 9, "fontWeight": "bold", "dy": 2, "baseline": "alphabetic", "color": "#333"},
         "encoding": {"x": {"field": "xm", "type": "quantitative"}, "y": {"field": "y", "type": "quantitative"}, "text": {"field": "t"}}}
       ]},
      {"title": "IFN-α", "width": 144, "height": 95,
       "transform": [{"filter": "datum.p == 'IFN-α'"}],
       "layer": [
        {"transform": [{"filter": "datum.k == 'b'"}],
         "mark": {"type": "bar", "size": 14, "strokeWidth": 1.4},
         "encoding": {
          "x": {"field": "x", "type": "quantitative", "scale": {"domain": [-0.68, 6.32], "nice": false, "zero": false}, "axis": {"values": [1, 4.65], "tickCount": 10, "labelExpr": "datum.value < 3 ? '14' : '14+2'", "title": "Days post injection"}},
          "y": {"field": "m", "type": "quantitative", "scale": {"domain": [0, 250], "nice": false}, "axis": {"values": [0, 50, 100, 150, 200, 250], "tickCount": 20, "labelOverlap": false, "format": "d", "title": "Concentration (pg/mL)"}},
          "fill": {"field": "gi", "type": "nominal", "legend": null},
          "stroke": {"field": "gi", "type": "nominal", "legend": null}}},
        {"transform": [{"filter": "datum.k == 'b'"}], "mark": {"type": "rule", "strokeWidth": 1.4},
         "encoding": {"x": {"field": "x", "type": "quantitative"}, "y": {"field": "m", "type": "quantitative"}, "y2": {"field": "hi"}, "stroke": {"field": "gi", "type": "nominal", "legend": null}}},
        {"transform": [{"filter": "datum.k == 'b'"}], "mark": {"type": "rule", "strokeWidth": 1.4},
         "encoding": {"x": {"field": "c1", "type": "quantitative"}, "x2": {"field": "c2"}, "y": {"field": "hi", "type": "quantitative"}, "stroke": {"field": "gi", "type": "nominal", "legend": null}}},
        {"transform": [{"filter": "datum.k == 's'"}], "mark": {"type": "point", "filled": false, "size": 28, "strokeWidth": 1.2, "opacity": 1},
         "encoding": {"x": {"field": "px", "type": "quantitative"}, "y": {"field": "v", "type": "quantitative"}, "color": {"field": "g", "type": "nominal"}, "shape": {"field": "g", "type": "nominal"}}},
        {"transform": [{"filter": "datum.k == 'x'"}], "mark": {"type": "rule", "strokeWidth": 1.1, "color": "#333"},
         "encoding": {"x": {"field": "x", "type": "quantitative"}, "x2": {"field": "x2"}, "y": {"field": "y", "type": "quantitative"}}},
        {"transform": [{"filter": "datum.k == 'x'"}], "mark": {"type": "text", "fontSize": 9, "fontWeight": "bold", "dy": 2, "baseline": "alphabetic", "color": "#333"},
         "encoding": {"x": {"field": "xm", "type": "quantitative"}, "y": {"field": "y", "type": "quantitative"}, "text": {"field": "t"}}}
       ]},
      {"title": "IL-6", "width": 144, "height": 95,
       "transform": [{"filter": "datum.p == 'IL-6'"}],
       "layer": [
        {"transform": [{"filter": "datum.k == 'b'"}],
         "mark": {"type": "bar", "size": 14, "strokeWidth": 1.4},
         "encoding": {
          "x": {"field": "x", "type": "quantitative", "scale": {"domain": [-0.68, 6.32], "nice": false, "zero": false}, "axis": {"values": [1, 4.65], "tickCount": 10, "labelExpr": "datum.value < 3 ? '14' : '14+2'", "title": "Days post injection"}},
          "y": {"field": "m", "type": "quantitative", "scale": {"domain": [0, 150], "nice": false}, "axis": {"values": [0, 50, 100, 150], "tickCount": 20, "labelOverlap": false, "format": "d", "title": "Concentration (pg/mL)"}},
          "fill": {"field": "gi", "type": "nominal", "legend": null},
          "stroke": {"field": "gi", "type": "nominal", "legend": null}}},
        {"transform": [{"filter": "datum.k == 'b'"}], "mark": {"type": "rule", "strokeWidth": 1.4},
         "encoding": {"x": {"field": "x", "type": "quantitative"}, "y": {"field": "m", "type": "quantitative"}, "y2": {"field": "hi"}, "stroke": {"field": "gi", "type": "nominal", "legend": null}}},
        {"transform": [{"filter": "datum.k == 'b'"}], "mark": {"type": "rule", "strokeWidth": 1.4},
         "encoding": {"x": {"field": "c1", "type": "quantitative"}, "x2": {"field": "c2"}, "y": {"field": "hi", "type": "quantitative"}, "stroke": {"field": "gi", "type": "nominal", "legend": null}}},
        {"transform": [{"filter": "datum.k == 's'"}], "mark": {"type": "point", "filled": false, "size": 28, "strokeWidth": 1.2, "opacity": 1},
         "encoding": {"x": {"field": "px", "type": "quantitative"}, "y": {"field": "v", "type": "quantitative"}, "color": {"field": "g", "type": "nominal"}, "shape": {"field": "g", "type": "nominal"}}},
        {"transform": [{"filter": "datum.k == 'x'"}], "mark": {"type": "rule", "strokeWidth": 1.1, "color": "#333"},
         "encoding": {"x": {"field": "x", "type": "quantitative"}, "x2": {"field": "x2"}, "y": {"field": "y", "type": "quantitative"}}},
        {"transform": [{"filter": "datum.k == 'x'"}], "mark": {"type": "text", "fontSize": 9, "fontWeight": "bold", "dy": 2, "baseline": "alphabetic", "color": "#333"},
         "encoding": {"x": {"field": "xm", "type": "quantitative"}, "y": {"field": "y", "type": "quantitative"}, "text": {"field": "t"}}}
       ]},
      {"title": "TNF-α", "width": 144, "height": 95,
       "transform": [{"filter": "datum.p == 'TNF-α'"}],
       "layer": [
        {"transform": [{"filter": "datum.k == 'b'"}],
         "mark": {"type": "bar", "size": 14, "strokeWidth": 1.4},
         "encoding": {
          "x": {"field": "x", "type": "quantitative", "scale": {"domain": [-0.68, 6.32], "nice": false, "zero": false}, "axis": {"values": [1, 4.65], "tickCount": 10, "labelExpr": "datum.value < 3 ? '14' : '14+2'", "title": "Days post injection"}},
          "y": {"field": "m", "type": "quantitative", "scale": {"domain": [0, 80], "nice": false}, "axis": {"values": [0, 20, 40, 60, 80], "tickCount": 20, "labelOverlap": false, "format": "d", "title": "Concentration (pg/mL)"}},
          "fill": {"field": "gi", "type": "nominal", "legend": null},
          "stroke": {"field": "gi", "type": "nominal", "legend": null}}},
        {"transform": [{"filter": "datum.k == 'b'"}], "mark": {"type": "rule", "strokeWidth": 1.4},
         "encoding": {"x": {"field": "x", "type": "quantitative"}, "y": {"field": "m", "type": "quantitative"}, "y2": {"field": "hi"}, "stroke": {"field": "gi", "type": "nominal", "legend": null}}},
        {"transform": [{"filter": "datum.k == 'b'"}], "mark": {"type": "rule", "strokeWidth": 1.4},
         "encoding": {"x": {"field": "c1", "type": "quantitative"}, "x2": {"field": "c2"}, "y": {"field": "hi", "type": "quantitative"}, "stroke": {"field": "gi", "type": "nominal", "legend": null}}},
        {"transform": [{"filter": "datum.k == 's'"}], "mark": {"type": "point", "filled": false, "size": 28, "strokeWidth": 1.2, "opacity": 1},
         "encoding": {"x": {"field": "px", "type": "quantitative"}, "y": {"field": "v", "type": "quantitative"}, "color": {"field": "g", "type": "nominal"}, "shape": {"field": "g", "type": "nominal"}}},
        {"transform": [{"filter": "datum.k == 'x'"}], "mark": {"type": "rule", "strokeWidth": 1.1, "color": "#333"},
         "encoding": {"x": {"field": "x", "type": "quantitative"}, "x2": {"field": "x2"}, "y": {"field": "y", "type": "quantitative"}}},
        {"transform": [{"filter": "datum.k == 'x'"}], "mark": {"type": "text", "fontSize": 9, "fontWeight": "bold", "dy": 2, "baseline": "alphabetic", "color": "#333"},
         "encoding": {"x": {"field": "xm", "type": "quantitative"}, "y": {"field": "y", "type": "quantitative"}, "text": {"field": "t"}}}
       ]},
      {"title": "IL-12", "width": 144, "height": 95,
       "transform": [{"filter": "datum.p == 'IL-12'"}],
       "layer": [
        {"transform": [{"filter": "datum.k == 'b'"}],
         "mark": {"type": "bar", "size": 14, "strokeWidth": 1.4},
         "encoding": {
          "x": {"field": "x", "type": "quantitative", "scale": {"domain": [-0.68, 6.32], "nice": false, "zero": false}, "axis": {"values": [1, 4.65], "tickCount": 10, "labelExpr": "datum.value < 3 ? '14' : '14+2'", "title": "Days post injection"}},
          "y": {"field": "m", "type": "quantitative", "scale": {"domain": [0, 30], "nice": false}, "axis": {"values": [0, 10, 20, 30], "tickCount": 20, "labelOverlap": false, "format": "d", "title": "Concentration (pg/mL)"}},
          "fill": {"field": "gi", "type": "nominal", "legend": null},
          "stroke": {"field": "gi", "type": "nominal", "legend": null}}},
        {"transform": [{"filter": "datum.k == 'b'"}], "mark": {"type": "rule", "strokeWidth": 1.4},
         "encoding": {"x": {"field": "x", "type": "quantitative"}, "y": {"field": "m", "type": "quantitative"}, "y2": {"field": "hi"}, "stroke": {"field": "gi", "type": "nominal", "legend": null}}},
        {"transform": [{"filter": "datum.k == 'b'"}], "mark": {"type": "rule", "strokeWidth": 1.4},
         "encoding": {"x": {"field": "c1", "type": "quantitative"}, "x2": {"field": "c2"}, "y": {"field": "hi", "type": "quantitative"}, "stroke": {"field": "gi", "type": "nominal", "legend": null}}},
        {"transform": [{"filter": "datum.k == 's'"}], "mark": {"type": "point", "filled": false, "size": 28, "strokeWidth": 1.2, "opacity": 1},
         "encoding": {"x": {"field": "px", "type": "quantitative"}, "y": {"field": "v", "type": "quantitative"}, "color": {"field": "g", "type": "nominal"}, "shape": {"field": "g", "type": "nominal"}}},
        {"transform": [{"filter": "datum.k == 'x'"}], "mark": {"type": "rule", "strokeWidth": 1.1, "color": "#333"},
         "encoding": {"x": {"field": "x", "type": "quantitative"}, "x2": {"field": "x2"}, "y": {"field": "y", "type": "quantitative"}}},
        {"transform": [{"filter": "datum.k == 'x'"}], "mark": {"type": "text", "fontSize": 9, "fontWeight": "bold", "dy": 2, "baseline": "alphabetic", "color": "#333"},
         "encoding": {"x": {"field": "xm", "type": "quantitative"}, "y": {"field": "y", "type": "quantitative"}, "text": {"field": "t"}}}
       ]},
      {"title": "CCL2", "width": 144, "height": 95,
       "transform": [{"filter": "datum.p == 'CCL2'"}],
       "layer": [
        {"transform": [{"filter": "datum.k == 'b'"}],
         "mark": {"type": "bar", "size": 14, "strokeWidth": 1.4},
         "encoding": {
          "x": {"field": "x", "type": "quantitative", "scale": {"domain": [-0.68, 6.32], "nice": false, "zero": false}, "axis": {"values": [1, 4.65], "tickCount": 10, "labelExpr": "datum.value < 3 ? '14' : '14+2'", "title": "Days post injection"}},
          "y": {"field": "m", "type": "quantitative", "scale": {"domain": [0, 1000], "nice": false}, "axis": {"values": [0, 200, 400, 600, 800, 1000], "tickCount": 20, "labelOverlap": false, "format": "d", "title": "Concentration (pg/mL)"}},
          "fill": {"field": "gi", "type": "nominal", "legend": null},
          "stroke": {"field": "gi", "type": "nominal", "legend": null}}},
        {"transform": [{"filter": "datum.k == 'b'"}], "mark": {"type": "rule", "strokeWidth": 1.4},
         "encoding": {"x": {"field": "x", "type": "quantitative"}, "y": {"field": "m", "type": "quantitative"}, "y2": {"field": "hi"}, "stroke": {"field": "gi", "type": "nominal", "legend": null}}},
        {"transform": [{"filter": "datum.k == 'b'"}], "mark": {"type": "rule", "strokeWidth": 1.4},
         "encoding": {"x": {"field": "c1", "type": "quantitative"}, "x2": {"field": "c2"}, "y": {"field": "hi", "type": "quantitative"}, "stroke": {"field": "gi", "type": "nominal", "legend": null}}},
        {"transform": [{"filter": "datum.k == 's'"}], "mark": {"type": "point", "filled": false, "size": 28, "strokeWidth": 1.2, "opacity": 1},
         "encoding": {"x": {"field": "px", "type": "quantitative"}, "y": {"field": "v", "type": "quantitative"}, "color": {"field": "g", "type": "nominal"}, "shape": {"field": "g", "type": "nominal"}}},
        {"transform": [{"filter": "datum.k == 'x'"}], "mark": {"type": "rule", "strokeWidth": 1.1, "color": "#333"},
         "encoding": {"x": {"field": "x", "type": "quantitative"}, "x2": {"field": "x2"}, "y": {"field": "y", "type": "quantitative"}}},
        {"transform": [{"filter": "datum.k == 'x'"}], "mark": {"type": "text", "fontSize": 9, "fontWeight": "bold", "dy": 2, "baseline": "alphabetic", "color": "#333"},
         "encoding": {"x": {"field": "xm", "type": "quantitative"}, "y": {"field": "y", "type": "quantitative"}, "text": {"field": "t"}}}
       ]},
      {"title": "CCL5", "width": 144, "height": 95,
       "transform": [{"filter": "datum.p == 'CCL5'"}],
       "layer": [
        {"transform": [{"filter": "datum.k == 'b'"}],
         "mark": {"type": "bar", "size": 14, "strokeWidth": 1.4},
         "encoding": {
          "x": {"field": "x", "type": "quantitative", "scale": {"domain": [-0.68, 6.32], "nice": false, "zero": false}, "axis": {"values": [1, 4.65], "tickCount": 10, "labelExpr": "datum.value < 3 ? '14' : '14+2'", "title": "Days post injection"}},
          "y": {"field": "m", "type": "quantitative", "scale": {"domain": [0, 200], "nice": false}, "axis": {"values": [0, 50, 100, 150, 200], "tickCount": 20, "labelOverlap": false, "format": "d", "title": "Concentration (pg/mL)"}},
          "fill": {"field": "gi", "type": "nominal", "legend": null},
          "stroke": {"field": "gi", "type": "nominal", "legend": null}}},
        {"transform": [{"filter": "datum.k == 'b'"}], "mark": {"type": "rule", "strokeWidth": 1.4},
         "encoding": {"x": {"field": "x", "type": "quantitative"}, "y": {"field": "m", "type": "quantitative"}, "y2": {"field": "hi"}, "stroke": {"field": "gi", "type": "nominal", "legend": null}}},
        {"transform": [{"filter": "datum.k == 'b'"}], "mark": {"type": "rule", "strokeWidth": 1.4},
         "encoding": {"x": {"field": "c1", "type": "quantitative"}, "x2": {"field": "c2"}, "y": {"field": "hi", "type": "quantitative"}, "stroke": {"field": "gi", "type": "nominal", "legend": null}}},
        {"transform": [{"filter": "datum.k == 's'"}], "mark": {"type": "point", "filled": false, "size": 28, "strokeWidth": 1.2, "opacity": 1},
         "encoding": {"x": {"field": "px", "type": "quantitative"}, "y": {"field": "v", "type": "quantitative"}, "color": {"field": "g", "type": "nominal"}, "shape": {"field": "g", "type": "nominal"}}},
        {"transform": [{"filter": "datum.k == 'x'"}], "mark": {"type": "rule", "strokeWidth": 1.1, "color": "#333"},
         "encoding": {"x": {"field": "x", "type": "quantitative"}, "x2": {"field": "x2"}, "y": {"field": "y", "type": "quantitative"}}},
        {"transform": [{"filter": "datum.k == 'x'"}], "mark": {"type": "text", "fontSize": 9, "fontWeight": "bold", "dy": 2, "baseline": "alphabetic", "color": "#333"},
         "encoding": {"x": {"field": "xm", "type": "quantitative"}, "y": {"field": "y", "type": "quantitative"}, "text": {"field": "t"}}}
       ]},
      {"title": {"text": "CXCL10", "dy": 5.5}, "width": 144, "height": 95,
       "transform": [{"filter": "datum.p == 'CXCL10'"}],
       "layer": [
        {"transform": [{"filter": "datum.k == 'b'"}],
         "mark": {"type": "bar", "size": 14, "strokeWidth": 1.4},
         "encoding": {
          "x": {"field": "x", "type": "quantitative", "scale": {"domain": [-0.68, 6.32], "nice": false, "zero": false}, "axis": {"values": [1, 4.65], "tickCount": 10, "labelExpr": "datum.value < 3 ? '14' : '14+2'", "title": "Days post injection"}},
          "y": {"field": "m", "type": "quantitative", "scale": {"domain": [0, 2000], "nice": false}, "axis": {"values": [0, 500, 1000, 1500, 2000], "tickCount": 20, "labelOverlap": false, "format": "d", "title": "Concentration (pg/mL)"}},
          "fill": {"field": "gi", "type": "nominal", "legend": null},
          "stroke": {"field": "gi", "type": "nominal", "legend": null}}},
        {"transform": [{"filter": "datum.k == 'b'"}], "mark": {"type": "rule", "strokeWidth": 1.4},
         "encoding": {"x": {"field": "x", "type": "quantitative"}, "y": {"field": "m", "type": "quantitative"}, "y2": {"field": "hi"}, "stroke": {"field": "gi", "type": "nominal", "legend": null}}},
        {"transform": [{"filter": "datum.k == 'b'"}], "mark": {"type": "rule", "strokeWidth": 1.4},
         "encoding": {"x": {"field": "c1", "type": "quantitative"}, "x2": {"field": "c2"}, "y": {"field": "hi", "type": "quantitative"}, "stroke": {"field": "gi", "type": "nominal", "legend": null}}},
        {"transform": [{"filter": "datum.k == 's'"}], "mark": {"type": "point", "filled": false, "size": 28, "strokeWidth": 1.2, "opacity": 1},
         "encoding": {"x": {"field": "px", "type": "quantitative"}, "y": {"field": "v", "type": "quantitative"}, "color": {"field": "g", "type": "nominal"}, "shape": {"field": "g", "type": "nominal"}}},
        {"transform": [{"filter": "datum.k == 'x'"}], "mark": {"type": "rule", "strokeWidth": 1.1, "color": "#333"},
         "encoding": {"x": {"field": "x", "type": "quantitative"}, "x2": {"field": "x2"}, "y": {"field": "y", "type": "quantitative"}}},
        {"transform": [{"filter": "datum.k == 'x'"}], "mark": {"type": "text", "fontSize": 9, "fontWeight": "bold", "dy": 2, "baseline": "alphabetic", "color": "#333"},
         "encoding": {"x": {"field": "xm", "type": "quantitative"}, "y": {"field": "y", "type": "quantitative"}, "text": {"field": "t"}}}
       ]},
      {"title": "CXCL1", "width": 144, "height": 95,
       "transform": [{"filter": "datum.p == 'CXCL1'"}],
       "layer": [
        {"transform": [{"filter": "datum.k == 'b'"}],
         "mark": {"type": "bar", "size": 14, "strokeWidth": 1.4},
         "encoding": {
          "x": {"field": "x", "type": "quantitative", "scale": {"domain": [-0.68, 6.32], "nice": false, "zero": false}, "axis": {"values": [1, 4.65], "tickCount": 10, "labelExpr": "datum.value < 3 ? '14' : '14+2'", "title": "Days post injection"}},
          "y": {"field": "m", "type": "quantitative", "scale": {"domain": [0, 400], "nice": false}, "axis": {"values": [0, 100, 200, 300, 400], "tickCount": 20, "labelOverlap": false, "format": "d", "title": "Concentration (pg/mL)"}},
          "fill": {"field": "gi", "type": "nominal", "legend": null},
          "stroke": {"field": "gi", "type": "nominal", "legend": null}}},
        {"transform": [{"filter": "datum.k == 'b'"}], "mark": {"type": "rule", "strokeWidth": 1.4},
         "encoding": {"x": {"field": "x", "type": "quantitative"}, "y": {"field": "m", "type": "quantitative"}, "y2": {"field": "hi"}, "stroke": {"field": "gi", "type": "nominal", "legend": null}}},
        {"transform": [{"filter": "datum.k == 'b'"}], "mark": {"type": "rule", "strokeWidth": 1.4},
         "encoding": {"x": {"field": "c1", "type": "quantitative"}, "x2": {"field": "c2"}, "y": {"field": "hi", "type": "quantitative"}, "stroke": {"field": "gi", "type": "nominal", "legend": null}}},
        {"transform": [{"filter": "datum.k == 's'"}], "mark": {"type": "point", "filled": false, "size": 28, "strokeWidth": 1.2, "opacity": 1},
         "encoding": {"x": {"field": "px", "type": "quantitative"}, "y": {"field": "v", "type": "quantitative"}, "color": {"field": "g", "type": "nominal"}, "shape": {"field": "g", "type": "nominal"}}},
        {"transform": [{"filter": "datum.k == 'x'"}], "mark": {"type": "rule", "strokeWidth": 1.1, "color": "#333"},
         "encoding": {"x": {"field": "x", "type": "quantitative"}, "x2": {"field": "x2"}, "y": {"field": "y", "type": "quantitative"}}},
        {"transform": [{"filter": "datum.k == 'x'"}], "mark": {"type": "text", "fontSize": 9, "fontWeight": "bold", "dy": 2, "baseline": "alphabetic", "color": "#333"},
         "encoding": {"x": {"field": "xm", "type": "quantitative"}, "y": {"field": "y", "type": "quantitative"}, "text": {"field": "t"}}}
       ]},
      {"title": "IL-1β", "width": 144, "height": 95,
       "transform": [{"filter": "datum.p == 'IL-1β'"}],
       "layer": [
        {"transform": [{"filter": "datum.k == 'b'"}],
         "mark": {"type": "bar", "size": 14, "strokeWidth": 1.4},
         "encoding": {
          "x": {"field": "x", "type": "quantitative", "scale": {"domain": [-0.68, 6.32], "nice": false, "zero": false}, "axis": {"values": [1, 4.65], "tickCount": 10, "labelExpr": "datum.value < 3 ? '14' : '14+2'", "title": "Days post injection"}},
          "y": {"field": "m", "type": "quantitative", "scale": {"domain": [0, 80], "nice": false}, "axis": {"values": [0, 20, 40, 60, 80], "tickCount": 20, "labelOverlap": false, "format": "d", "title": "Concentration (pg/mL)"}},
          "fill": {"field": "gi", "type": "nominal", "legend": null},
          "stroke": {"field": "gi", "type": "nominal", "legend": null}}},
        {"transform": [{"filter": "datum.k == 'b'"}], "mark": {"type": "rule", "strokeWidth": 1.4},
         "encoding": {"x": {"field": "x", "type": "quantitative"}, "y": {"field": "m", "type": "quantitative"}, "y2": {"field": "hi"}, "stroke": {"field": "gi", "type": "nominal", "legend": null}}},
        {"transform": [{"filter": "datum.k == 'b'"}], "mark": {"type": "rule", "strokeWidth": 1.4},
         "encoding": {"x": {"field": "c1", "type": "quantitative"}, "x2": {"field": "c2"}, "y": {"field": "hi", "type": "quantitative"}, "stroke": {"field": "gi", "type": "nominal", "legend": null}}},
        {"transform": [{"filter": "datum.k == 's'"}], "mark": {"type": "point", "filled": false, "size": 28, "strokeWidth": 1.2, "opacity": 1},
         "encoding": {"x": {"field": "px", "type": "quantitative"}, "y": {"field": "v", "type": "quantitative"}, "color": {"field": "g", "type": "nominal"}, "shape": {"field": "g", "type": "nominal"}}},
        {"transform": [{"filter": "datum.k == 'x'"}], "mark": {"type": "rule", "strokeWidth": 1.1, "color": "#333"},
         "encoding": {"x": {"field": "x", "type": "quantitative"}, "x2": {"field": "x2"}, "y": {"field": "y", "type": "quantitative"}}},
        {"transform": [{"filter": "datum.k == 'x'"}], "mark": {"type": "text", "fontSize": 9, "fontWeight": "bold", "dy": 2, "baseline": "alphabetic", "color": "#333"},
         "encoding": {"x": {"field": "xm", "type": "quantitative"}, "y": {"field": "y", "type": "quantitative"}, "text": {"field": "t"}}}
       ]},
      {"title": "IL-10", "width": 144, "height": 95,
       "transform": [{"filter": "datum.p == 'IL-10'"}],
       "layer": [
        {"transform": [{"filter": "datum.k == 'b'"}],
         "mark": {"type": "bar", "size": 14, "strokeWidth": 1.4},
         "encoding": {
          "x": {"field": "x", "type": "quantitative", "scale": {"domain": [-0.68, 6.32], "nice": false, "zero": false}, "axis": {"values": [1, 4.65], "tickCount": 10, "labelExpr": "datum.value < 3 ? '14' : '14+2'", "title": "Days post injection"}},
          "y": {"field": "m", "type": "quantitative", "scale": {"domain": [0, 1500], "nice": false}, "axis": {"values": [0, 500, 1000, 1500], "tickCount": 20, "labelOverlap": false, "format": "d", "title": "Concentration (pg/mL)"}},
          "fill": {"field": "gi", "type": "nominal", "legend": null},
          "stroke": {"field": "gi", "type": "nominal", "legend": null}}},
        {"transform": [{"filter": "datum.k == 'b'"}], "mark": {"type": "rule", "strokeWidth": 1.4},
         "encoding": {"x": {"field": "x", "type": "quantitative"}, "y": {"field": "m", "type": "quantitative"}, "y2": {"field": "hi"}, "stroke": {"field": "gi", "type": "nominal", "legend": null}}},
        {"transform": [{"filter": "datum.k == 'b'"}], "mark": {"type": "rule", "strokeWidth": 1.4},
         "encoding": {"x": {"field": "c1", "type": "quantitative"}, "x2": {"field": "c2"}, "y": {"field": "hi", "type": "quantitative"}, "stroke": {"field": "gi", "type": "nominal", "legend": null}}},
        {"transform": [{"filter": "datum.k == 's'"}], "mark": {"type": "point", "filled": false, "size": 28, "strokeWidth": 1.2, "opacity": 1},
         "encoding": {"x": {"field": "px", "type": "quantitative"}, "y": {"field": "v", "type": "quantitative"}, "color": {"field": "g", "type": "nominal"}, "shape": {"field": "g", "type": "nominal"}}},
        {"transform": [{"filter": "datum.k == 'x'"}], "mark": {"type": "rule", "strokeWidth": 1.1, "color": "#333"},
         "encoding": {"x": {"field": "x", "type": "quantitative"}, "x2": {"field": "x2"}, "y": {"field": "y", "type": "quantitative"}}},
        {"transform": [{"filter": "datum.k == 'x'"}], "mark": {"type": "text", "fontSize": 9, "fontWeight": "bold", "dy": 2, "baseline": "alphabetic", "color": "#333"},
         "encoding": {"x": {"field": "xm", "type": "quantitative"}, "y": {"field": "y", "type": "quantitative"}, "text": {"field": "t"}}}
       ]},
      {"title": "GM-CSF", "width": 144, "height": 95,
       "transform": [{"filter": "datum.p == 'GM-CSF'"}],
       "layer": [
        {"transform": [{"filter": "datum.k == 'b'"}],
         "mark": {"type": "bar", "size": 14, "strokeWidth": 1.4},
         "encoding": {
          "x": {"field": "x", "type": "quantitative", "scale": {"domain": [-0.68, 6.32], "nice": false, "zero": false}, "axis": {"values": [1, 4.65], "tickCount": 10, "labelExpr": "datum.value < 3 ? '14' : '14+2'", "title": "Days post injection"}},
          "y": {"field": "m", "type": "quantitative", "scale": {"domain": [0, 80], "nice": false}, "axis": {"values": [0, 20, 40, 60, 80], "tickCount": 20, "labelOverlap": false, "format": "d", "title": "Concentration (pg/mL)"}},
          "fill": {"field": "gi", "type": "nominal", "legend": null},
          "stroke": {"field": "gi", "type": "nominal", "legend": null}}},
        {"transform": [{"filter": "datum.k == 'b'"}], "mark": {"type": "rule", "strokeWidth": 1.4},
         "encoding": {"x": {"field": "x", "type": "quantitative"}, "y": {"field": "m", "type": "quantitative"}, "y2": {"field": "hi"}, "stroke": {"field": "gi", "type": "nominal", "legend": null}}},
        {"transform": [{"filter": "datum.k == 'b'"}], "mark": {"type": "rule", "strokeWidth": 1.4},
         "encoding": {"x": {"field": "c1", "type": "quantitative"}, "x2": {"field": "c2"}, "y": {"field": "hi", "type": "quantitative"}, "stroke": {"field": "gi", "type": "nominal", "legend": null}}},
        {"transform": [{"filter": "datum.k == 's'"}], "mark": {"type": "point", "filled": false, "size": 28, "strokeWidth": 1.2, "opacity": 1},
         "encoding": {"x": {"field": "px", "type": "quantitative"}, "y": {"field": "v", "type": "quantitative"}, "color": {"field": "g", "type": "nominal"}, "shape": {"field": "g", "type": "nominal"}}},
        {"transform": [{"filter": "datum.k == 'x'"}], "mark": {"type": "rule", "strokeWidth": 1.1, "color": "#333"},
         "encoding": {"x": {"field": "x", "type": "quantitative"}, "x2": {"field": "x2"}, "y": {"field": "y", "type": "quantitative"}}},
        {"transform": [{"filter": "datum.k == 'x'"}], "mark": {"type": "text", "fontSize": 9, "fontWeight": "bold", "dy": 2, "baseline": "alphabetic", "color": "#333"},
         "encoding": {"x": {"field": "xm", "type": "quantitative"}, "y": {"field": "y", "type": "quantitative"}, "text": {"field": "t"}}}
       ]}
    ]
  }],
  "config": {
    "font": "Liberation Sans",
    "view": {"stroke": null},
    "axis": {"grid": false, "labelOverlap": false, "domainColor": "#000", "domainWidth": 1.3, "tickColor": "#000", "tickWidth": 1.2, "tickSize": 3, "labelColor": "#000", "labelFont": "Liberation Sans", "labelFontWeight": "bold", "labelFontSize": 8, "titleColor": "#000", "titleFont": "Liberation Sans", "titleFontWeight": "bold", "titleFontSize": 8},
    "axisY": {"minExtent": 20, "maxExtent": 20, "titlePadding": 1, "labelPadding": 2},
    "axisX": {"labelFontSize": 7.5, "labelPadding": 2, "titlePadding": 6, "labelAngle": 0},
    "title": {"font": "Liberation Sans", "fontSize": 9, "fontWeight": "bold", "offset": 6, "frame": "group", "color": "#000"}
  }
}
